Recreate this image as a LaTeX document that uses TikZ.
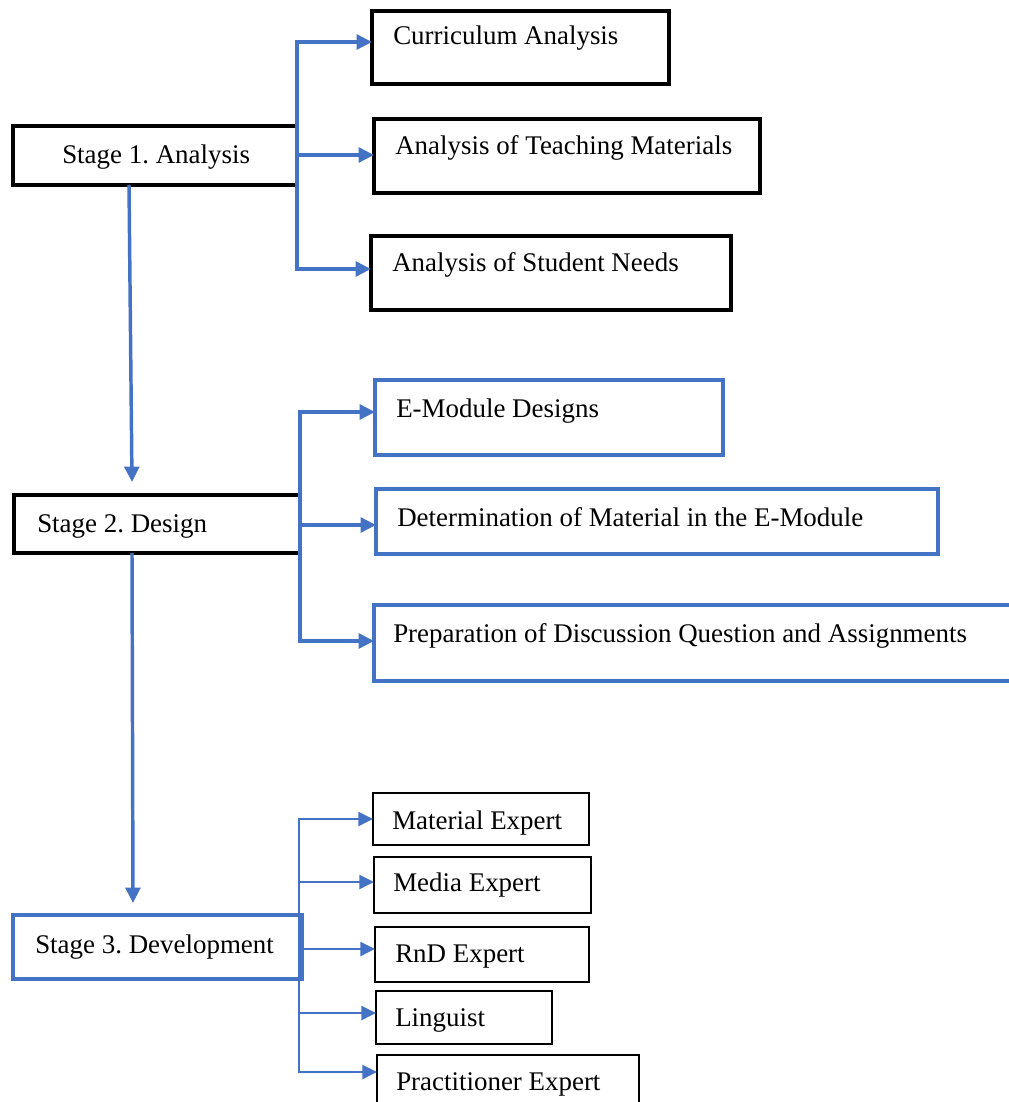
\documentclass[tikz,border=0pt]{standalone}
\usepackage{fontspec}
\setmainfont{Liberation Serif}
\usetikzlibrary{arrows.meta,calc,fit}
\definecolor{linkblue}{HTML}{4472C4}

\begin{document}
\frenchspacing
\begin{tikzpicture}[x=0.75pt,y=-0.75pt,
  box/.style={draw,rectangle,inner sep=0pt,outer sep=0pt},
  stagebox/.style={box,line width=3.4pt},
  itembox/.style={box,line width=2.5pt},
  bluebox/.style={box,draw=linkblue,line width=2.5pt},
  smallbox/.style={box,line width=2.1pt},
  lbl/.style={anchor=base west,inner sep=0pt,font=\fontsize{20.2}{24}\selectfont},
  flow/.style={draw=linkblue,line width=2.6pt,
    -{Triangle[length=11.5pt,width=11pt]}},
  thinflow/.style={draw=linkblue,line width=1.8pt,
    -{Triangle[length=11pt,width=10.5pt]}},
]
\useasboundingbox (0,0) rectangle (1009,1102);

% stage boxes
\node[stagebox, fit={(13,126) (297,185)}] (s1) {};
\node[stagebox, fit={(14,495) (300,553)}] (s2) {};
\node[stagebox, draw=linkblue, fit={(13,915) (302,979)}] (s3) {};

% stage 1 tasks
\node[itembox, fit={(372,11) (669,84)}] (c1) {};
\node[itembox, fit={(374,119) (760,193)}] (c2) {};
\node[itembox, fit={(371,236) (731,310)}] (c3) {};

% stage 2 tasks
\node[bluebox, fit={(375,380) (723,455)}] (e1) {};
\node[bluebox, fit={(376,489) (938,554)}] (e2) {};
\node[bluebox, fit={(374,605) (1030,681)}] (e3) {};

% stage 3 validators
\node[smallbox, fit={(373,793) (589,845)}] (m1) {};
\node[smallbox, fit={(374,857) (591,913)}] (m2) {};
\node[smallbox, fit={(375,927) (589,982)}] (m3) {};
\node[smallbox, fit={(376,991) (552,1044)}] (m4) {};
\node[smallbox, fit={(377,1055) (639,1120)}] (m5) {};

% labels
\node[lbl] (t1) at (62,163) {Stage 1. Analysis};
\node[lbl] (t2) at (37,532) {Stage 2. Design};
\node[lbl] (t3) at (35,953) {Stage 3. Development};

\node[lbl] (tc1) at (393,45) {Curriculum Analysis};
\node[lbl] (tc2) at (395,155) {Analysis of Teaching Materials};
\node[lbl] (tc3) at (392,271) {Analysis of Student Needs};

\node[lbl] (te1) at (396,417) {E-Module Designs};
\node[lbl] (te2) at (397,526) {Determination of Material in the E-Module};
\node[lbl] (te3) at (393,642) {Preparation of Discussion Question and Assignments};

\node[lbl] (tm1) at (392,829) {Material Expert};
\node[lbl] (tm2) at (393,891) {Media Expert};
\node[lbl] (tm3) at (395,962) {RnD Expert};
\node[lbl] (tm4) at (395,1026) {Linguist};
\node[lbl] (tm5) at (396,1090) {Practitioner Expert};

% stage-to-stage arrows
\draw[flow] ($(s1.south)+(-26,0)$) -- ($(s2.north)+(-25,-13)$);
\draw[flow] ($(s2.south)+(-25,0)$) -- ($(s3.north)+(-24.5,-12)$);

% stage 1 branches
\draw[flow] (s1.east) |- ($(c1.west)+(0,-5.5)$);
\draw[flow] (s1.east) |- ($(c2.west)+(0,-1)$);
\draw[flow] (s1.east) |- ($(c3.west)+(0,-4)$);

% stage 2 branches
\draw[flow] (s2.east) |- ($(e1.west)+(0,-5.5)$);
\draw[flow] (s2.east) |- ($(e2.west)+(0,3.5)$);
\draw[flow] (s2.east) |- ($(e3.west)+(0,-2)$);

% stage 3 branches
\draw[thinflow] ($(s3.east)+(-3,0)$) |- (m1.west);
\draw[thinflow] ($(s3.east)+(-3,0)$) |- ($(m2.west)+(0,-3)$);
\draw[thinflow] ($(s3.east)+(-3,0)$) |- ($(m3.west)+(0,-5.5)$);
\draw[thinflow] ($(s3.east)+(-3,0)$) |- ($(m4.west)+(0,-4.5)$);
\draw[thinflow] ($(s3.east)+(-3,0)$) |- ($(m5.west)+(0,-15.5)$);
\end{tikzpicture}
\end{document}
